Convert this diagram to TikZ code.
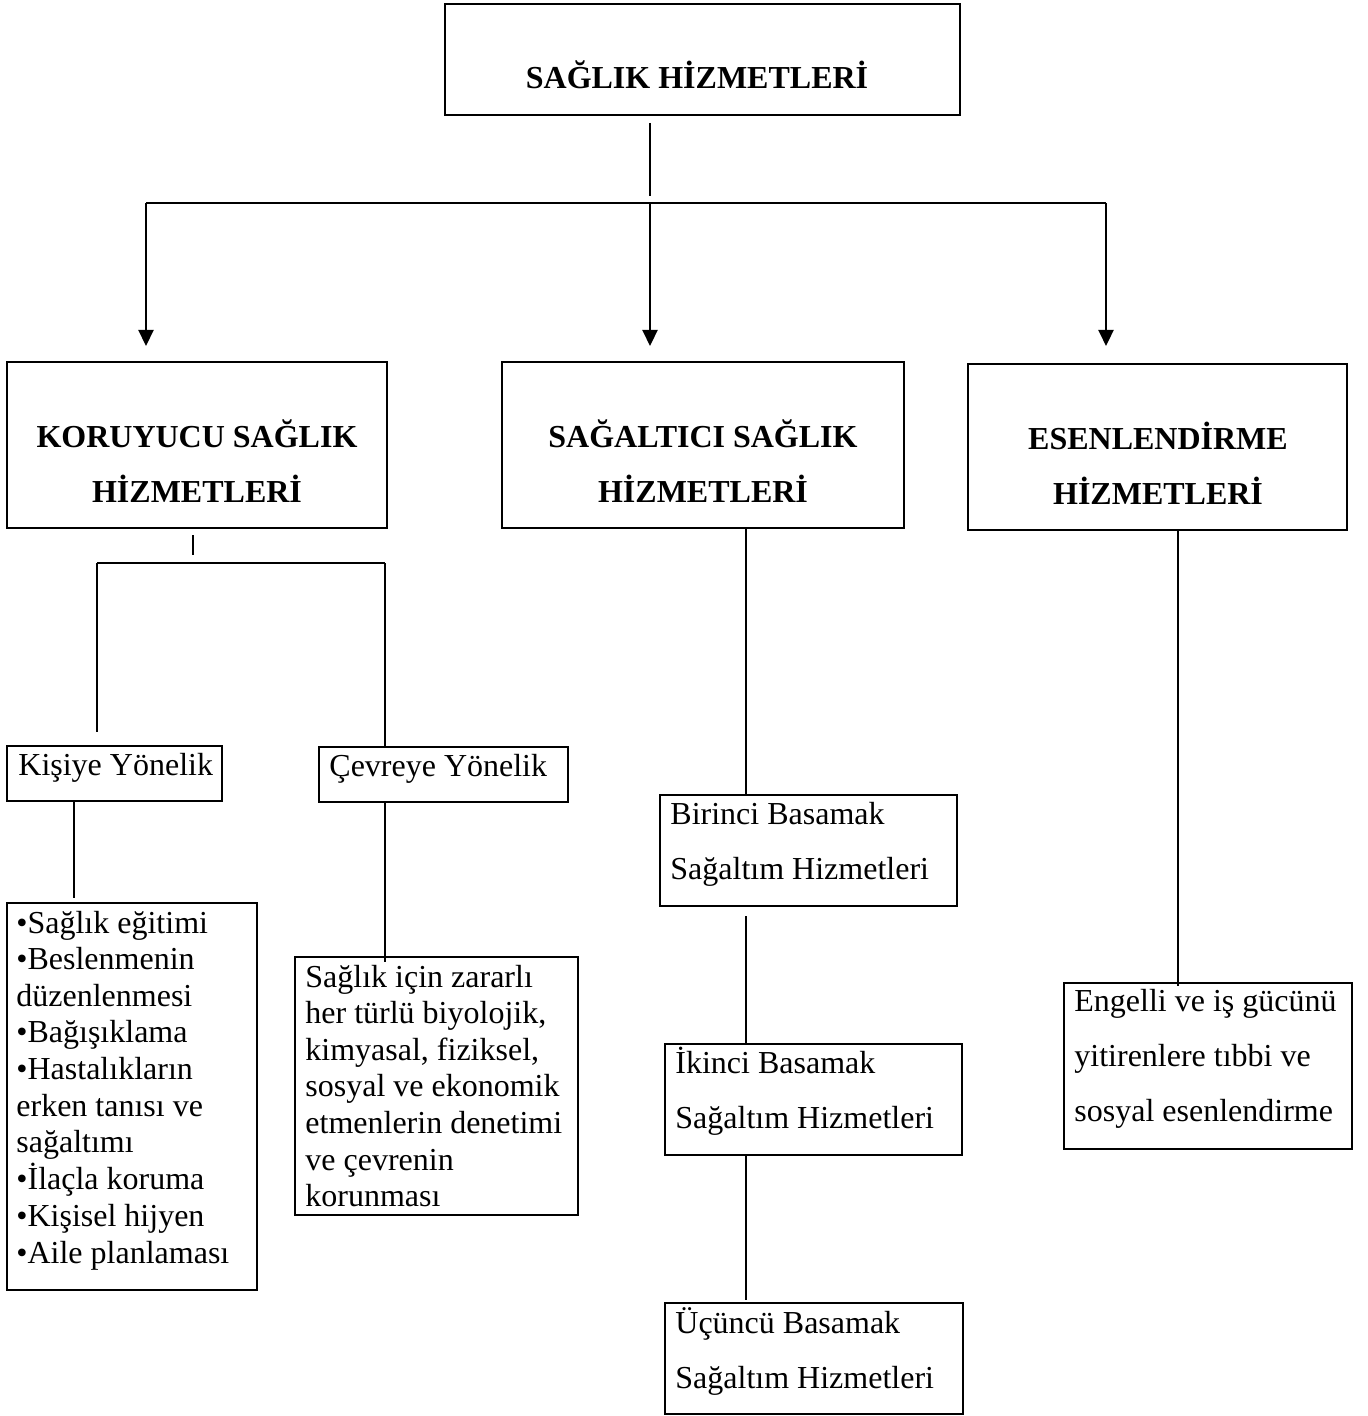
\documentclass[tikz,border=0pt]{standalone}
\usepackage{fontspec}
\setmainfont{Liberation Serif}
\usetikzlibrary{fit,arrows.meta}
\begin{document}
\begin{tikzpicture}[x=0.5pt,y=-0.5pt,
  frame/.style={draw, line width=1.3pt, inner sep=0pt, fit={#1}},
  conn/.style={line width=1.1pt},
  arr/.style={conn, -{Triangle[length=8pt,width=7.5pt]}},
  head/.style={inner sep=0pt, anchor=base, font=\fontsize{16}{27.5}\selectfont\bfseries},
  body/.style={inner sep=0pt, anchor=base west, font=\fontsize{16}{18.3}\selectfont},
  wide/.style={inner sep=0pt, anchor=base west, font=\fontsize{16}{27.5}\selectfont}]
\useasboundingbox[fill=white] (0,0) rectangle (1367,1416);

% boxes
\node[frame={(445,4) (960,115)}] (top) {};
\node[frame={(7,362) (387,528)}] (kor) {};
\node[frame={(502,362) (904,528)}] (sag) {};
\node[frame={(968,364) (1347,530)}] (esen) {};
\node[frame={(7,746) (222,801)}] (kisi) {};
\node[frame={(319,747) (568,802)}] (cevre) {};
\node[frame={(7,903) (257,1290)}] (liste) {};
\node[frame={(295,957) (578,1215)}] (cevret) {};
\node[frame={(660,795) (957,906)}] (bir) {};
\node[frame={(665,1044) (962,1155)}] (iki) {};
\node[frame={(665,1303) (963,1414)}] (uc) {};
\node[frame={(1064,983) (1352,1149)}] (engel) {};

% texts
\node[head] (topT) at (697,89) {\begin{tabular}[t]{@{}c@{}}SAĞLIK HİZMETLERİ\end{tabular}};
\node[head] (korT) at (197,448) {\begin{tabular}[t]{@{}c@{}}KORUYUCU SAĞLIK\\HİZMETLERİ\end{tabular}};
\node[head] (sagT) at (703,448) {\begin{tabular}[t]{@{}c@{}}SAĞALTICI SAĞLIK\\HİZMETLERİ\end{tabular}};
\node[head] (esenT) at (1158,450) {\begin{tabular}[t]{@{}c@{}}ESENLENDİRME\\HİZMETLERİ\end{tabular}};
\node[body] (kisiT) at (18,775) {Kişiye Yönelik};
\node[body] (cevreT) at (329,776) {Çevreye Yönelik};
\node[body] (listeT) at (16,933) {\begin{tabular}[t]{@{}l@{}}•Sağlık eğitimi\\•Beslenmenin\\düzenlenmesi\\•Bağışıklama\\•Hastalıkların\\erken tanısı ve\\sağaltımı\\•İlaçla koruma\\•Kişisel hijyen\\•Aile planlaması\end{tabular}};
\node[body] (cevretT) at (305,987) {\begin{tabular}[t]{@{}l@{}}Sağlık için zararlı\\her türlü biyolojik,\\kimyasal, fiziksel,\\sosyal ve ekonomik\\etmenlerin denetimi\\ve çevrenin\\korunması\end{tabular}};
\node[wide] (birT) at (670,824) {\begin{tabular}[t]{@{}l@{}}Birinci Basamak\\Sağaltım Hizmetleri\end{tabular}};
\node[wide] (ikiT) at (675,1073) {\begin{tabular}[t]{@{}l@{}}İkinci Basamak\\Sağaltım Hizmetleri\end{tabular}};
\node[wide] (ucT) at (675,1333) {\begin{tabular}[t]{@{}l@{}}Üçüncü Basamak\\Sağaltım Hizmetleri\end{tabular}};
\node[wide] (engelT) at (1074,1011) {\begin{tabular}[t]{@{}l@{}}Engelli ve iş gücünü\\yitirenlere tıbbi ve\\sosyal esenlendirme\end{tabular}};

% junction points and connector columns
\coordinate (t1) at (650,123);
\coordinate (t2) at (650,196);
\coordinate (bL) at (146,203);
\coordinate (bM) at (650,203);
\coordinate (bR) at (1106,203);
\coordinate (k1) at (193,535);
\coordinate (k2) at (193,555);
\coordinate (kL) at (97,563);
\coordinate (kR) at (385,563);
\coordinate (kLend) at (97,732);
\coordinate (xK) at (74,0);
\coordinate (kisiEnd) at (74,898);
\coordinate (cevEnd) at (385,962);
\coordinate (xS) at (746,0);
\coordinate (birLow) at (746,916);
\coordinate (ucTop) at (746,1300);
\coordinate (xE) at (1178,0);
\coordinate (esEnd) at (1178,986);

% top level
\draw[conn] (t1) -- (t2);
\draw[conn] (bL) -- (bR);
\draw[arr] (bL) -- ++(0,143);
\draw[arr] (bM) -- ++(0,143);
\draw[arr] (bR) -- ++(0,143);

% preventive branch
\draw[conn] (k1) -- (k2);
\draw[conn] (kL) -- (kR);
\draw[conn] (kL) -- (kLend);
\draw[conn] (kR) -- (cevre.north -| kR);
\draw[conn] (kisi.south -| xK) -- (kisiEnd);
\draw[conn] (cevre.south -| kR) -- (cevEnd);

% curative branch
\draw[conn] (sag.south -| xS) -- (bir.north -| xS);
\draw[conn] (birLow) -- (iki.north -| xS);
\draw[conn] (iki.south -| xS) -- (ucTop);

% rehabilitation branch
\draw[conn] (esen.south -| xE) -- (esEnd);
\end{tikzpicture}
\end{document}
